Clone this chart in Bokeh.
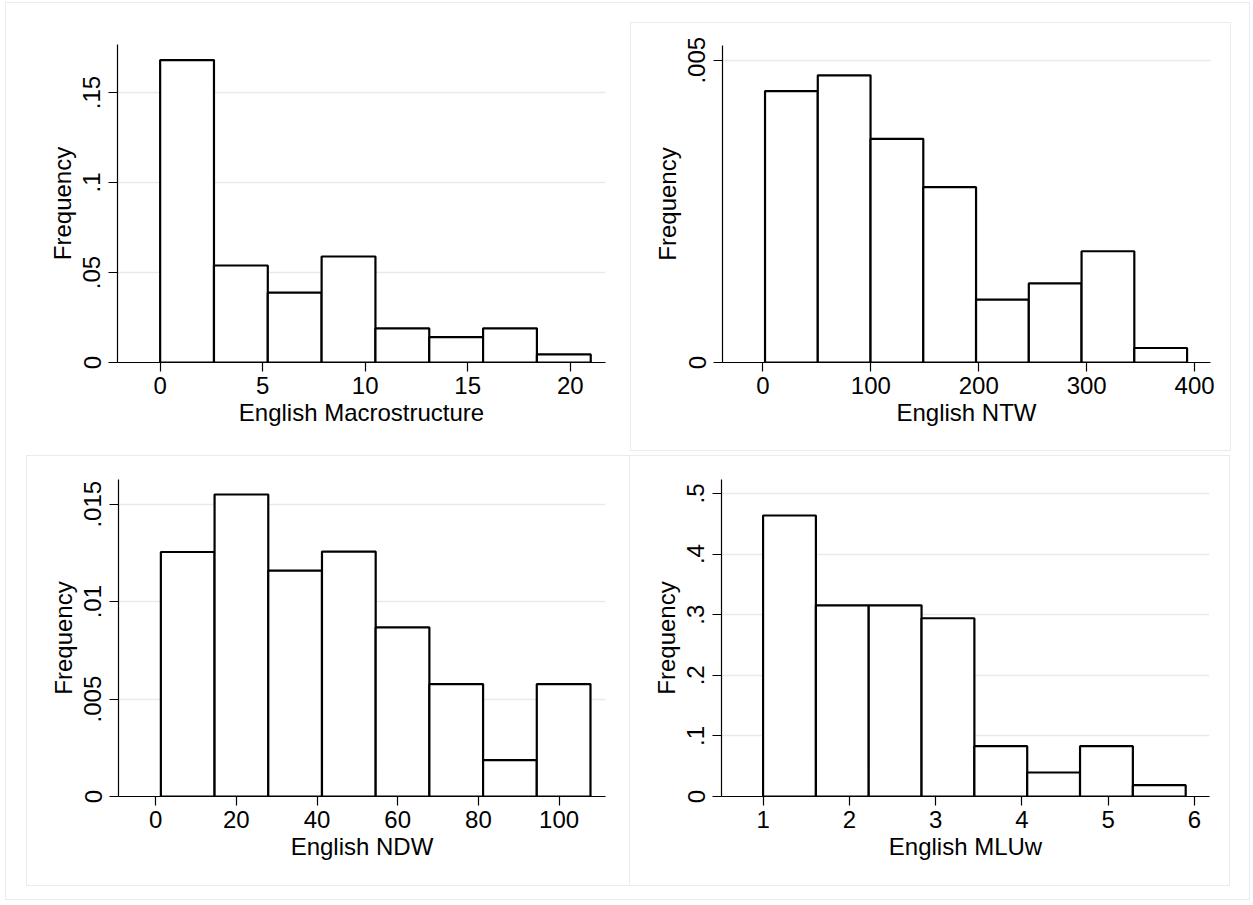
import math
from bokeh.plotting import figure
from bokeh.models import Range1d, FixedTicker, Spacer
from bokeh.layouts import row, column
from bokeh.embed import file_html
from bokeh.resources import INLINE

# ---------------- data ----------------
macro_bin_start = 0.0
macro_bin_width = 2.625
macro_density = [0.1680, 0.0539, 0.0388, 0.0589, 0.0190, 0.0141, 0.0190, 0.0045]
macro_xticks = [0, 5, 10, 15, 20]
macro_yticks = [0.0, 0.05, 0.1, 0.15]
macro_ylabels = ["0", ".05", ".1", ".15"]

ntw_bin_start = 2.0
ntw_bin_width = 48.875
ntw_density = [0.00449, 0.00475, 0.00370, 0.00290, 0.00104, 0.00131, 0.00184, 0.00024]
ntw_xticks = [0, 100, 200, 300, 400]
ntw_yticks = [0.0, 0.005]
ntw_ylabels = ["0", ".005"]

ndw_bin_start = 1.3
ndw_bin_width = 13.31
ndw_density = [0.01255, 0.01550, 0.01159, 0.01257, 0.00868, 0.00577, 0.00187, 0.00577]
ndw_xticks = [0, 20, 40, 60, 80, 100]
ndw_yticks = [0.0, 0.005, 0.01, 0.015]
ndw_ylabels = ["0", ".005", ".01", ".015"]

mluw_bin_start = 1.0
mluw_bin_width = 0.6125
mluw_density = [0.4637, 0.3155, 0.3155, 0.2941, 0.0831, 0.0396, 0.0831, 0.0187]
mluw_xticks = [1, 2, 3, 4, 5, 6]
mluw_yticks = [0.0, 0.1, 0.2, 0.3, 0.4, 0.5]
mluw_ylabels = ["0", ".1", ".2", ".3", ".4", ".5"]

x_titles = ["English Macrostructure", "English NTW", "English NDW", "English MLUw"]
y_title = "Frequency"

FONT = "Liberation Sans"
FSIZE = "24px"
GRID = "#e4ebef"
BORDER = "1px solid #e6ecf0"


def make_panel(xtitle, start, width, dens, xr, yr, xticks, yticks, ylabels,
               w, h, mb, styles=None):
    kw = {}
    if styles is not None:
        kw["styles"] = styles
    p = figure(width=w, height=h, x_range=Range1d(*xr), y_range=Range1d(*yr),
               output_backend="svg", toolbar_location=None, title=None,
               min_border_left=mb[0], min_border_top=mb[1],
               min_border_right=mb[2], min_border_bottom=mb[3], **kw)
    left = [start + i * width for i in range(len(dens))]
    right = [start + (i + 1) * width for i in range(len(dens))]
    p.quad(left=left, right=right, bottom=0, top=dens, fill_color="white",
           line_color="black", line_width=2.2)
    p.outline_line_color = None
    p.background_fill_color = "white"
    p.border_fill_color = "white"
    p.xgrid.visible = False
    p.ygrid.ticker = FixedTicker(ticks=yticks[1:])
    p.ygrid.grid_line_color = GRID
    p.ygrid.grid_line_width = 1.5

    p.xaxis.ticker = FixedTicker(ticks=xticks)
    p.yaxis.ticker = FixedTicker(ticks=yticks)
    p.yaxis.major_label_overrides = {t: s for t, s in zip(yticks, ylabels)}
    p.yaxis.major_label_orientation = "vertical"
    p.xaxis.axis_label = xtitle
    p.yaxis.axis_label = y_title
    for ax in (p.xaxis, p.yaxis):
        ax.axis_line_color = "black"
        ax.axis_line_width = 1.2
        ax.major_tick_line_color = "black"
        ax.major_tick_line_width = 1.2
        ax.major_tick_out = 9
        ax.major_tick_in = 0
        ax.minor_tick_line_color = None
        ax.major_label_text_font = FONT
        ax.major_label_text_font_size = FSIZE
        ax.major_label_text_color = "black"
        ax.axis_label_text_font = FONT
        ax.axis_label_text_font_size = FSIZE
        ax.axis_label_text_font_style = "normal"
        ax.axis_label_text_color = "black"
    p.xaxis.major_label_standoff = 5
    p.xaxis.axis_label_standoff = 2
    p.yaxis.major_label_standoff = 8
    p.yaxis.axis_label_standoff = 5
    return p


p1 = make_panel(x_titles[0], macro_bin_start, macro_bin_width, macro_density,
                (-2.08, 21.72), (0, 0.17667), macro_xticks, macro_yticks, macro_ylabels,
                624, 452, (111, 41, 25, 93))
p2 = make_panel(x_titles[1], ntw_bin_start, ntw_bin_width, ntw_density,
                (-37.4, 414.7), (0, 0.005243), ntw_xticks, ntw_yticks, ntw_ylabels,
                601, 429, (91, 22, 22, 90),
                styles={"border": BORDER})
p3 = make_panel(x_titles[2], ndw_bin_start, ndw_bin_width, ndw_density,
                (-9.2, 111.5), (0, 0.01627), ndw_xticks, ndw_yticks, ndw_ylabels,
                603, 431, (91, 23, 25, 91),
                styles={"border-left": BORDER, "border-top": BORDER, "border-bottom": BORDER})
p4 = make_panel(x_titles[3], mluw_bin_start, mluw_bin_width, mluw_density,
                (0.518, 6.176), (0, 0.5231), mluw_xticks, mluw_yticks, mluw_ylabels,
                601, 431, (91, 23, 22, 91),
                styles={"border": BORDER})

top_row = row(p1, column(Spacer(width=10, height=19), p2, spacing=0),
              Spacer(width=18, height=10), spacing=0)
bottom_row = row(Spacer(width=20, height=10), p3, p4, Spacer(width=18, height=10), spacing=0)
layout = column(top_row, bottom_row, Spacer(width=10, height=13), spacing=0,
                styles={"border": BORDER}, margin=(2, 0, 0, 5))

open("out.html", "w").write(file_html(layout, INLINE))
